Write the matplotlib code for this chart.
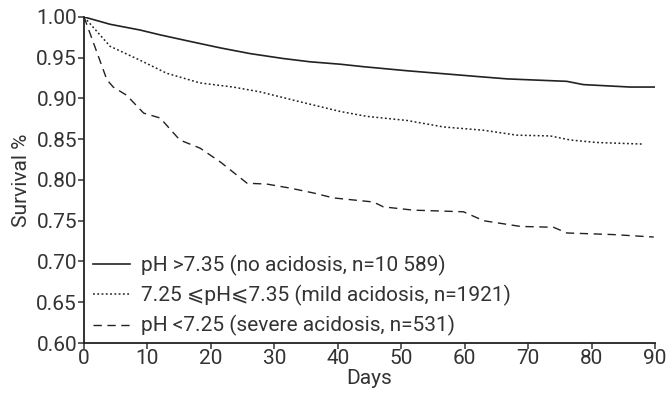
import matplotlib
matplotlib.use("Agg")
import matplotlib.pyplot as plt

# ------------------------------------------------------------------ data
days_none = [0, 4.1, 8.8, 12, 16.7, 21.5, 26.2, 31.4, 35.6, 40.4, 44, 50.9,
             57.2, 61.9, 66.7, 76.1, 78.7, 86.1, 90]
surv_none = [1.000, 0.991, 0.984, 0.978, 0.970, 0.962, 0.955, 0.949, 0.945,
             0.942, 0.939, 0.934, 0.930, 0.927, 0.924, 0.921, 0.917, 0.914,
             0.914]

days_mild = [0, 4.1, 8.8, 13, 18.3, 23.5, 27.8, 34, 40.4, 44.6, 50.9, 56.7,
             63, 68.2, 73.5, 76.7, 80.8, 88.2]
surv_mild = [1.000, 0.964, 0.947, 0.931, 0.919, 0.914, 0.908, 0.896, 0.884,
             0.878, 0.873, 0.865, 0.861, 0.855, 0.854, 0.849, 0.846, 0.844]

days_sev = [0, 3.6, 4.6, 6.7, 9.4, 12, 15.1, 18.3, 21.5, 25.7, 28.8, 32.5,
            36.2, 39.3, 45.6, 47.2, 51.9, 59.8, 63, 68.8, 74, 76.1, 83.5,
            89.8]
surv_sev = [1.000, 0.923, 0.914, 0.904, 0.882, 0.876, 0.849, 0.839, 0.822,
            0.796, 0.795, 0.790, 0.784, 0.778, 0.773, 0.767, 0.763, 0.761,
            0.750, 0.743, 0.742, 0.735, 0.733, 0.730]

labels = ["pH >7.35 (no acidosis, n=10 589)",
          "7.25 \u2a7dpH\u2a7d7.35 (mild acidosis, n=1921)",
          "pH <7.25 (severe acidosis, n=531)"]

x_ticks = list(range(0, 91, 10))
y_ticks = [0.60, 0.65, 0.70, 0.75, 0.80, 0.85, 0.90, 0.95, 1.00]

# ------------------------------------------------------------------ style
TXT = "#333333"
LINE = "#222222"
plt.rcParams.update({
    "font.family": ["Roboto", "DejaVu Sans"],
    "font.size": 15,
    "text.color": TXT,
    "axes.labelcolor": TXT,
    "xtick.color": TXT,
    "ytick.color": TXT,
    "axes.spines.top": False,
    "axes.spines.right": False,
})

fig = plt.figure(figsize=(6.67, 3.94), dpi=100)
ax = fig.add_axes([0.126, 0.1294, 0.856, 0.8276])

ax.plot(days_none, surv_none, color=LINE, lw=1.2, ls="-", label=labels[0])
ax.plot(days_mild, surv_mild, color=LINE, lw=1.1, ls=(0, (1.2, 1.6)),
        label=labels[1])
ax.plot(days_sev, surv_sev, color=LINE, lw=1.0, ls=(0, (6, 4)),
        label=labels[2])

ax.set_xlim(0, 90)
ax.set_ylim(0.60, 1.00)
ax.set_xticks(x_ticks)
ax.set_yticks(y_ticks)
ax.set_yticklabels([f"{v:.2f}" for v in y_ticks])
for s in ("left", "bottom"):
    ax.spines[s].set_color(LINE)
    ax.spines[s].set_linewidth(1.3)
ax.tick_params(length=4, width=1.1, pad=1, colors=TXT)
ax.tick_params(axis="x", pad=0)

ax.set_xlabel("Days", labelpad=1)
ax.set_ylabel("Survival %", labelpad=4)

ax.legend(loc="lower left", bbox_to_anchor=(0.015, 0.02), frameon=False,
          handlelength=1.8, handletextpad=0.5, labelspacing=0.45,
          borderpad=0, borderaxespad=0)

fig.savefig("out.png", dpi=100)
